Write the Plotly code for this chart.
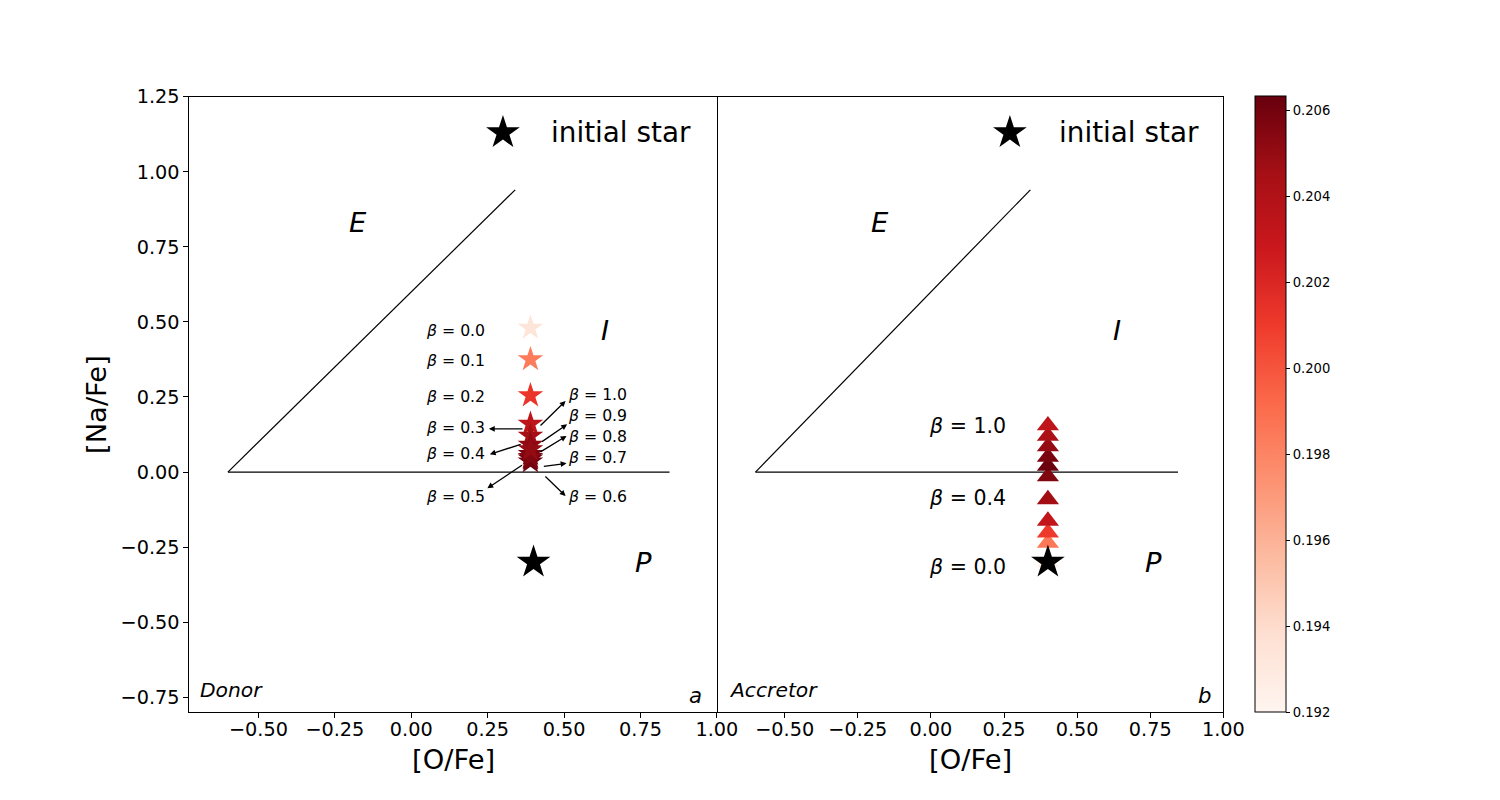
import plotly.graph_objects as go
import plotly.colors as pc

# ---------------- data ----------------
beta_labels = ["0.0", "0.1", "0.2", "0.3", "0.4", "0.5", "0.6", "0.7", "0.8", "0.9", "1.0"]

donor_ofe = [0.39] * 11
donor_nafe = [0.48, 0.375, 0.255, 0.16, 0.12, 0.09, 0.06, 0.045, 0.035, 0.05, 0.075]
donor_c = [0.1934, 0.1984, 0.2012, 0.2034, 0.2045, 0.2052, 0.2058, 0.2062, 0.2060, 0.2056, 0.2050]

acc_ofe = [0.40] * 11
acc_nafe = [-0.30, -0.236, -0.202, -0.163, -0.091, -0.015, 0.02, 0.05, 0.085, 0.12, 0.155]
acc_c = [0.1925, 0.1985, 0.2010, 0.2032, 0.2046, 0.2056, 0.2062, 0.2058, 0.2050, 0.2042, 0.2034]

init_star_left = (0.30, 1.13)
init_star_right = (0.27, 1.13)
final_star = (0.40, -0.30)

line_diag_x = [-0.6, 0.34]
line_diag_y = [0.0, 0.94]
line_h_x = [-0.6, 0.845]
line_h_y = [0.0, 0.0]

cmin, cmax = 0.192, 0.20633
cbar_ticks = [0.192, 0.194, 0.196, 0.198, 0.200, 0.202, 0.204, 0.206]
x_ticks = [-0.5, -0.25, 0.0, 0.25, 0.5, 0.75, 1.0]
y_ticks = [-0.75, -0.5, -0.25, 0.0, 0.25, 0.5, 0.75, 1.0, 1.25]

reds = pc.sequential.Reds
FONT = "DejaVu Sans"

# compensation for how the page is photographed
S, OX, OY = 0.987, -1.6, 10.2
W, H = 1500, 800
def px(xr):
    return ((xr - OX) / S) / W
def py(yr):
    return 1 - ((yr - OY) / S) / H
def fs(v):
    return v / S

fig = go.Figure()

for xa, ya in (("x", "y"), ("x2", "y2")):
    fig.add_trace(go.Scatter(x=line_diag_x, y=line_diag_y, mode="lines",
                             line=dict(color="black", width=1.2), xaxis=xa, yaxis=ya,
                             showlegend=False, hoverinfo="skip"))
    fig.add_trace(go.Scatter(x=line_h_x, y=line_h_y, mode="lines",
                             line=dict(color="black", width=1.2), xaxis=xa, yaxis=ya,
                             showlegend=False, hoverinfo="skip"))

# donor stars
fig.add_trace(go.Scatter(
    x=donor_ofe, y=donor_nafe, mode="markers", xaxis="x", yaxis="y", showlegend=False,
    marker=dict(symbol="star", size=fs(19), color=donor_c, colorscale=reds, cmin=cmin, cmax=cmax,
                line=dict(width=0),
                showscale=True,
                colorbar=dict(x=px(1255), xanchor="left", xpad=0, ypad=0,
                              y=py(712), yanchor="bottom", len=py(96) - py(712), lenmode="fraction",
                              thickness=fs(31), outlinecolor="black", outlinewidth=1,
                              tickvals=cbar_ticks, tickformat=".3f", ticks="outside",
                              ticklen=4, tickcolor="black",
                              tickfont=dict(family=FONT, size=fs(13), color="black"))),
))

# accretor triangles
fig.add_trace(go.Scatter(
    x=acc_ofe, y=acc_nafe, mode="markers", xaxis="x2", yaxis="y2", showlegend=False,
    marker=dict(symbol="triangle-up", size=fs(19), color=acc_c, colorscale=reds, cmin=cmin, cmax=cmax,
                line=dict(width=0)),
))

# black stars
for xa, ya, st in (("x", "y", init_star_left), ("x2", "y2", init_star_right)):
    fig.add_trace(go.Scatter(x=[st[0], final_star[0]], y=[st[1], final_star[1]], mode="markers",
                             xaxis=xa, yaxis=ya, showlegend=False,
                             marker=dict(symbol="star", size=fs(25), color="black", line=dict(width=0))))

ann = []
def txt(x, y, s, xref, yref, size, xanchor="center", italic=False):
    if italic:
        s = "<i>" + s + "</i>"
    ann.append(dict(x=x, y=y, xref=xref, yref=yref, text=s, showarrow=False,
                    xanchor=xanchor, yanchor="middle",
                    font=dict(family=FONT, size=fs(size), color="black")))

for xr, yr, st in (("x", "y", init_star_left), ("x2", "y2", init_star_right)):
    txt(st[0] + 0.150 if xr == "x" else st[0] + 0.161, 1.13, "initial star", xr, yr, 27.5, "left")
    txt(-0.174, 0.83, "E", xr, yr, 27, italic=True)
    txt(0.635, 0.473, "I", xr, yr, 27, italic=True)
    txt(0.76, -0.30, "P", xr, yr, 27, italic=True)

txt(-0.697, -0.727, "Donor", "x", "y", 20, "left", italic=True)
txt(0.93, -0.743, "a", "x", "y", 21, italic=True)
txt(-0.697, -0.727, "Accretor", "x2", "y2", 20, "left", italic=True)
txt(0.936, -0.743, "b", "x2", "y2", 21, italic=True)

# donor beta labels
left_lab_y = {"0.0": 0.47, "0.1": 0.37, "0.2": 0.25, "0.3": 0.147, "0.4": 0.063, "0.5": -0.083}
right_lab_y = {"1.0": 0.257, "0.9": 0.187, "0.8": 0.117, "0.7": 0.047, "0.6": -0.083}
for b, yy in left_lab_y.items():
    txt(0.043, yy, "<i>β</i> = " + b, "x", "y", 15.5, "left")
for b, yy in right_lab_y.items():
    txt(0.505, yy, "<i>β</i> = " + b, "x", "y", 15.5, "left")

# arrows: tail at star, head at label
arrows = {
    "0.3": ((0.369, 0.144), (0.254, 0.144)),
    "0.4": ((0.363, 0.094), (0.257, 0.059)),
    "0.5": ((0.367, 0.026), (0.249, -0.054)),
    "0.6": ((0.434, -0.010), (0.505, -0.080)),
    "0.7": ((0.429, 0.018), (0.508, 0.029)),
    "0.8": ((0.418, 0.064), (0.508, 0.120)),
    "0.9": ((0.423, 0.098), (0.510, 0.159)),
    "1.0": ((0.418, 0.150), (0.505, 0.237)),
}
for b, (tail, head) in arrows.items():
    ann.append(dict(x=head[0], y=head[1], ax=tail[0], ay=tail[1], xref="x", yref="y",
                    axref="x", ayref="y", text="", showarrow=True, arrowhead=2,
                    arrowsize=0.9, arrowwidth=1.3, arrowcolor="black", standoff=0, startstandoff=0))

# accretor labels
txt(-0.014, 0.153, "<i>β</i> = 1.0", "x2", "y2", 20.3, "left")
txt(-0.014, -0.087, "<i>β</i> = 0.4", "x2", "y2", 20.3, "left")
txt(-0.014, -0.317, "<i>β</i> = 0.0", "x2", "y2", 20.3, "left")

# axis titles
for cx in (452, 969.5):
    ann.append(dict(x=px(cx), y=py(759), xref="paper", yref="paper", text="[O/Fe]",
                    xanchor="center", yanchor="middle",
                    showarrow=False, font=dict(family=FONT, size=fs(27), color="black")))
ann.append(dict(x=px(95), y=py(404), xref="paper", yref="paper", text="[Na/Fe]",
                xanchor="center", yanchor="middle",
                showarrow=False, textangle=-90, font=dict(family=FONT, size=fs(27), color="black")))

axis_common = dict(showline=True, linecolor="black", linewidth=1, mirror=True,
                   showgrid=False, zeroline=False, ticks="outside", ticklen=5,
                   tickcolor="black", tickwidth=1,
                   tickfont=dict(family=FONT, size=fs(19), color="black"))

fig.update_layout(
    width=W, height=H,
    margin=dict(l=0, r=0, t=0, b=0),
    paper_bgcolor="white", plot_bgcolor="white",
    font=dict(family=FONT),
    xaxis=dict(domain=[px(188), px(716)], range=[-0.726, 1.0], tickvals=x_ticks,
               tickformat=".2f", anchor="y", ticklabelstandoff=-5, **axis_common),
    yaxis=dict(domain=[py(712), py(96)], range=[-0.8, 1.25], tickvals=y_ticks, tickformat=".2f",
               anchor="x", **axis_common),
    xaxis2=dict(domain=[px(716), px(1223)], range=[-0.732, 1.0], tickvals=x_ticks,
                tickformat=".2f", anchor="y2", ticklabelstandoff=-5, **axis_common),
    yaxis2=dict(domain=[py(712), py(96)], range=[-0.8, 1.25], anchor="x2", matches="y",
                side="right", showline=True, linecolor="black", linewidth=1, mirror=False,
                showgrid=False, zeroline=False, showticklabels=False, ticks=""),
    annotations=ann,
)

fig.write_html("out.html", config={"displayModeBar": False},
               post_script="document.body.style.margin='0';document.body.style.overflow='hidden';")
